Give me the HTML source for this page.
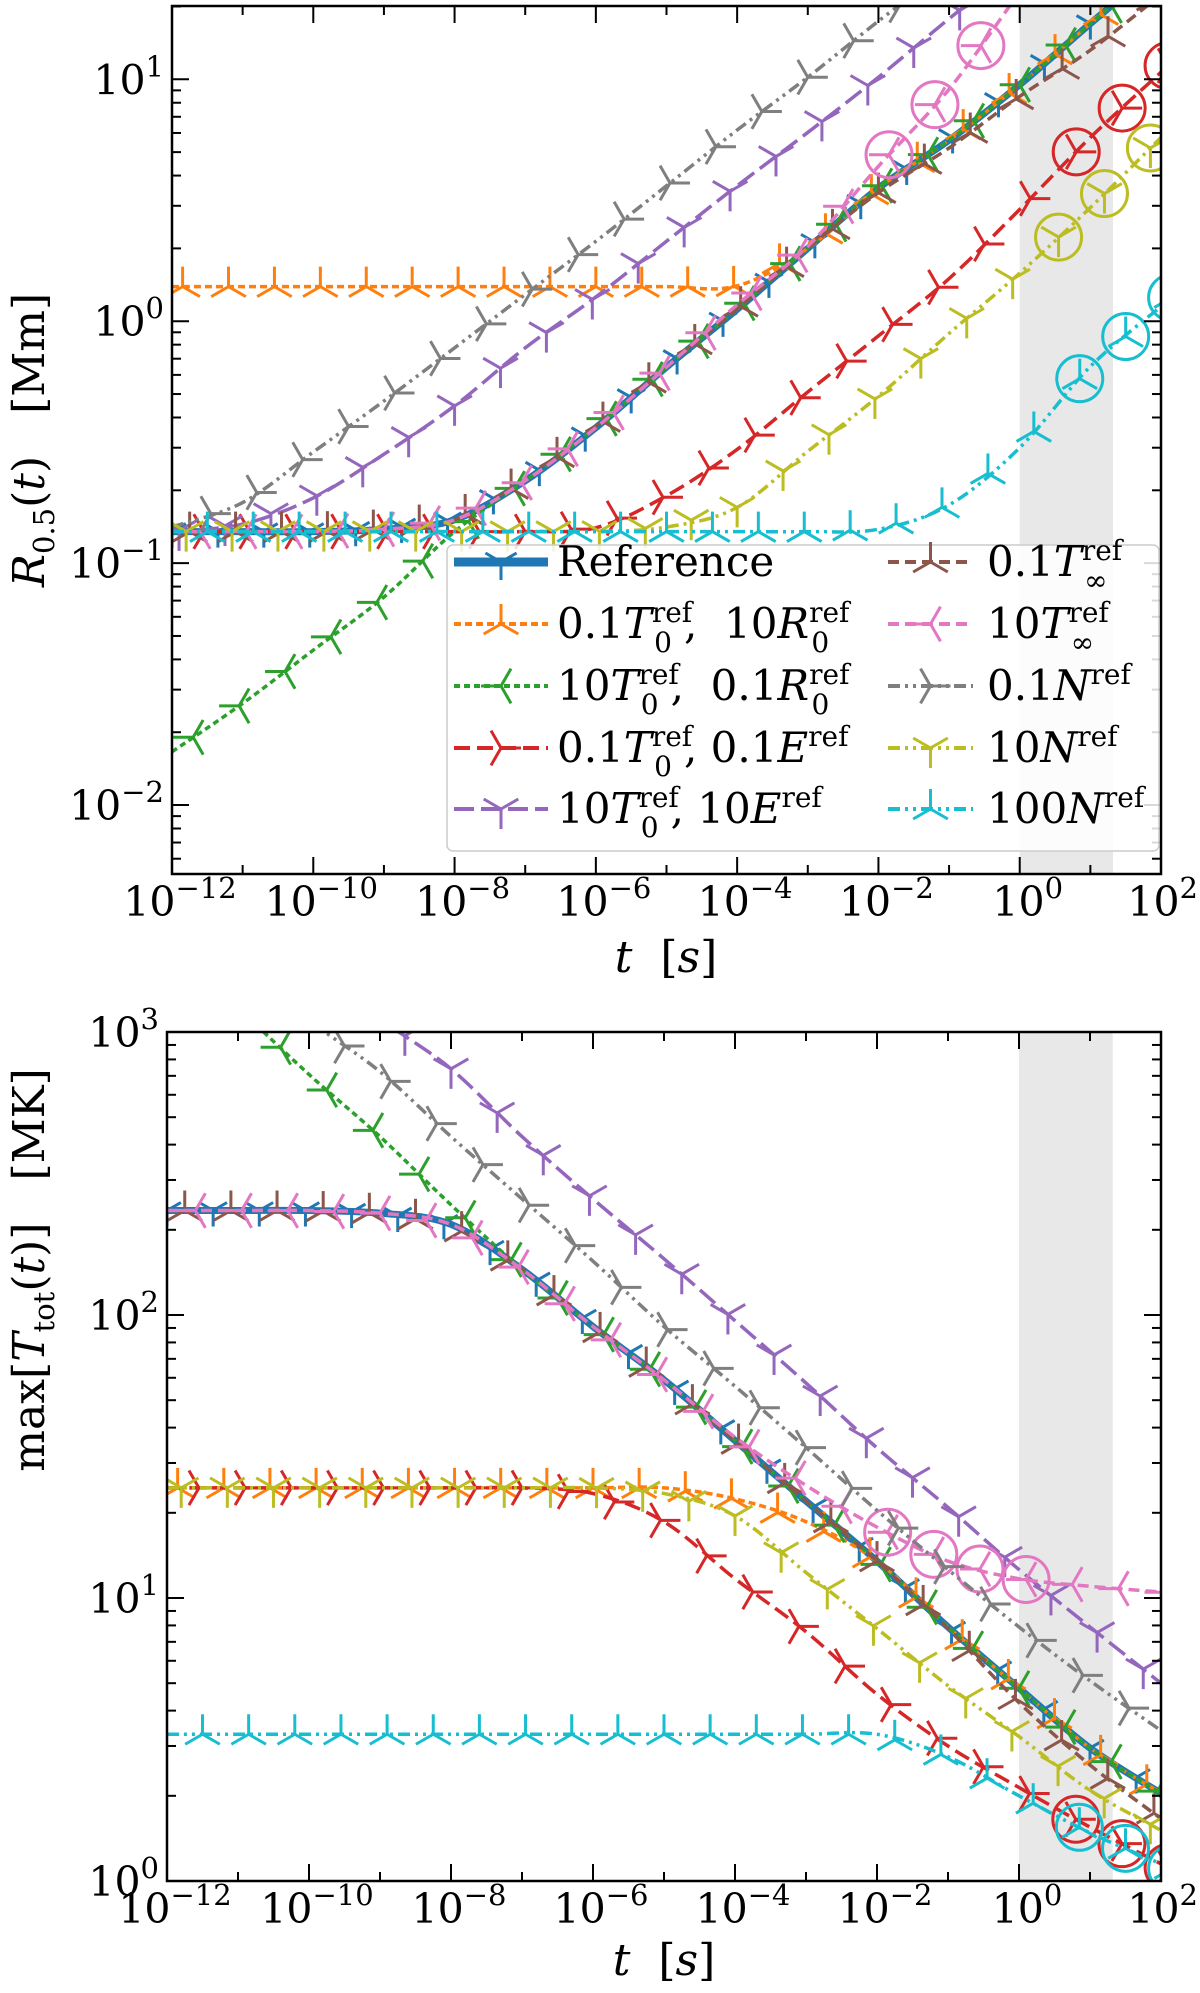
<!DOCTYPE html>
<html><head><meta charset="utf-8"><style>
html,body{margin:0;padding:0;background:#fff}
svg{display:block}
text{font-family:"DejaVu Serif","Liberation Serif",serif;fill:#000}
</style></head><body>
<svg id="fig" width="1200" height="1993" viewBox="0 0 1200 1993" xmlns="http://www.w3.org/2000/svg">
<defs>
<clipPath id="clipTop"><rect x="172" y="6" width="989" height="868"/></clipPath>
<clipPath id="clipBot"><rect x="167" y="1032" width="994" height="849"/></clipPath>
</defs>
<g id="top"></g>
<g id="bot"></g>
</svg>
<script>
// ---- shared categories (log10 of time in s) ----
const tLog = [-12,-11,-10,-9,-8,-7,-6,-5,-4,-3,-2,-1,0,1,2];
const xTickLabels = ["−12","−10","−8","−6","−4","−2","0","2"];
const xTickExp = [-12,-10,-8,-6,-4,-2,0,2];
const seriesNames = ["Reference","orange","green","red","purple","brown","pink","gray","olive","cyan"];

// ---- top panel: R_0.5(t) [Mm] ----
const R_ref    = [0.135,0.135,0.135,0.138,0.151,0.219,0.363,0.646,1.12,2.0,3.55,5.6,9.5,17,30];
const R_orange = [1.39,1.39,1.39,1.39,1.39,1.39,1.39,1.39,1.40,2.0,3.55,5.6,9.5,17,30];
const R_green  = [0.0166,0.0263,0.0437,0.0724,0.135,0.219,0.363,0.646,1.12,2.0,3.55,5.6,9.5,17,30];
const R_red    = [0.135,0.135,0.135,0.135,0.135,0.135,0.14,0.19,0.295,0.51,0.87,1.5,2.9,5.75,10.7];
const R_purple = [0.135,0.145,0.186,0.282,0.447,0.776,1.26,2.14,3.63,6.03,10.2,17.8,30.2,50,85];
const R_brown  = [0.135,0.135,0.135,0.138,0.151,0.219,0.363,0.646,1.12,2.0,3.4,5.2,8.5,13.2,22.4];
const R_pink   = [0.135,0.135,0.135,0.138,0.151,0.219,0.363,0.646,1.17,2.04,4.37,9.1,22.9,56,126];
const R_gray   = [0.141,0.178,0.288,0.468,0.776,1.29,2.14,3.63,6.17,10.2,17.4,28.8,47.9,81.3,138];
const R_olive  = [0.135,0.135,0.135,0.135,0.135,0.135,0.135,0.141,0.17,0.29,0.49,0.89,1.58,2.95,5.75];
const R_cyan   = [0.135,0.135,0.135,0.135,0.135,0.135,0.135,0.135,0.135,0.135,0.138,0.174,0.30,0.65,1.15];

// ---- bottom panel: max T_tot(t) [MK] ----
const T_ref    = [234,234,234,229,209,145,91,59,36,22,13.5,7.9,4.8,2.95,2.04];
const T_orange = [24.5,24.5,24.5,24.5,24.5,24.5,24.5,24.5,22.4,18.6,13.5,7.9,4.8,2.95,2.04];
const T_green  = [2290,1230,708,427,245,145,91,59,36,22,13.5,7.9,4.8,2.95,2.04];
const T_red    = [24.5,24.5,24.5,24.5,24.5,24.5,23.4,18.6,11.7,7.6,4.57,3.0,2.14,1.55,1.15];
const T_purple = [5000,3160,1860,1120,741,427,257,158,95.5,57.5,33.9,20.9,12.6,7.9,5.0];
const T_brown  = [234,234,234,229,209,145,91,59,36,22,13.5,7.8,4.27,2.57,1.66];
const T_pink   = [234,234,234,229,209,145,91,59,37,25,17.8,13.5,11.7,11.0,10.5];
const T_gray   = [3160,1780,1100,724,427,257,155,91,56,34,20.4,12.6,7.9,5.1,3.4];
const T_olive  = [24.5,24.5,24.5,24.5,24.5,24.5,24.5,23.4,19.5,12.3,7.8,4.9,3.24,2.09,1.51];
const T_cyan   = [3.3,3.3,3.3,3.3,3.3,3.3,3.3,3.3,3.3,3.3,3.3,2.75,2.0,1.48,1.15];

const topSeries = [R_ref,R_orange,R_green,R_red,R_purple,R_brown,R_pink,R_gray,R_olive,R_cyan];
const botSeries = [T_ref,T_orange,T_green,T_red,T_purple,T_brown,T_pink,T_gray,T_olive,T_cyan];

const NS = "http://www.w3.org/2000/svg";
const colors = ["#1f77b4","#ff7f0e","#2ca02c","#d62728","#9467bd","#8c564b","#e377c2","#7f7f7f","#bcbd22","#17becf"];
const dashes = ["", "7 4", "6 4", "16 7", "20 7", "11 6", "11 6", "12 5 3 5 3 5", "12 5 3 5 3 5", "12 5 3 5 3 5"];
const widths = [7,3.5,3.5,3.5,3.5,3.5,3.5,3.5,3.5,3.5];
const mtype = ["down","up","left","right","down","up","left","right","down","up"];
const moff = [0.0,0.15,0.3,0.45,0.1,0.25,0.4,0.55,0.2,0.5];

function el(tag, attrs, parent){
  const e = document.createElementNS(NS, tag);
  for (const k in attrs) e.setAttribute(k, attrs[k]);
  parent.appendChild(e);
  return e;
}

function makePanel(g, cfg, seriesList, panelName){
  const xS = v => cfg.x0 + (v - (-12)) / 14 * (cfg.x1 - cfg.x0);
  const yS = v => cfg.y1 - (Math.log10(v) - cfg.lmin) / (cfg.lmax - cfg.lmin) * (cfg.y1 - cfg.y0);
  const sh = el("rect", {x:xS(0), y:cfg.y0, width:xS(1.32)-xS(0), height:cfg.y1-cfg.y0, fill:"#e8e8e8"}, g);
  
  
  const plot = el("g", {"clip-path":"url(#"+cfg.clip+")"}, g);
  
  
  seriesList.forEach((vals, si) => {
    const pts = tLog.map((t,i)=>[xS(t), yS(vals[i])]);
    let d = "M"+pts[0][0]+","+pts[0][1];
    for (let i=0;i<pts.length-1;i++){
      const p0 = pts[Math.max(0,i-1)], p1 = pts[i], p2 = pts[i+1], p3 = pts[Math.min(pts.length-1,i+2)];
      const c1 = [p1[0]+(p2[0]-p0[0])/6, p1[1]+(p2[1]-p0[1])/6];
      const c2 = [p2[0]-(p3[0]-p1[0])/6, p2[1]-(p3[1]-p1[1])/6];
      d += " C"+c1[0]+","+c1[1]+" "+c2[0]+","+c2[1]+" "+p2[0]+","+p2[1];
    }
    const sg = el("g", {}, plot);
    
    
    const ln = el("path", {d:d, fill:"none", stroke:colors[si], "stroke-width":widths[si], "stroke-dasharray":dashes[si]}, sg);
    
    
    for (let m = -12 + moff[si]; m <= 2.3; m += 0.65){
      const i = Math.min(13, Math.max(0, Math.floor(m+12)));
      const f = (m - tLog[i]);
      const lv = Math.log10(vals[i]) + (Math.log10(vals[i+1]) - Math.log10(vals[i]))*f;
      const mx = xS(m), my = yS(Math.pow(10, lv));
      const mk = drawMarker(sg, mx, my, mtype[si], colors[si], si===0?16:20);
      
      
      const circ = (si===3||si===8||si===9) ? m>=0.3 : (si===6 ? m>=-2.2 && m<=0.2 : false);
      if (circ && !(panelName==="temp" && si===8)){
        const c = el("circle", {cx:mx, cy:my, r:23, fill:"none", stroke:colors[si], "stroke-width":3}, sg);
        
        
      }
    }
  });
  const fr = el("rect", {x:cfg.x0, y:cfg.y0, width:cfg.x1-cfg.x0, height:cfg.y1-cfg.y0, fill:"none", stroke:"#000", "stroke-width":2.5}, g);
  
  
  for (let e=-12; e<=2; e++){
    const x = xS(e);
    const L = (e%2===0)?17:9;
    el("line",{x1:x,y1:cfg.y1,x2:x,y2:cfg.y1-L,stroke:"#000","stroke-width":2},g);
    el("line",{x1:x,y1:cfg.y0,x2:x,y2:cfg.y0+L,stroke:"#000","stroke-width":2},g);
  }
  xTickExp.forEach((e,i)=>{
    const last = (i === xTickExp.length-1);
    const tx = el("text",{x:last?1198:xS(e)+8, y:cfg.y1+42, "font-size":41, "text-anchor":last?"end":"middle"}, g);
    
    
    tx.innerHTML = '10<tspan dy="-18" font-size="29">'+xTickLabels[i]+'</tspan>';
  });
  for (let dec = Math.floor(cfg.lmin); dec <= Math.ceil(cfg.lmax); dec++){
    for (let k=1;k<10;k++){
      const lv = dec + Math.log10(k);
      if (lv < cfg.lmin-1e-6 || lv > cfg.lmax+1e-6) continue;
      const y = yS(Math.pow(10,lv));
      const L = k===1?17:9;
      el("line",{x1:cfg.x0,y1:y,x2:cfg.x0+L,y2:y,stroke:"#000","stroke-width":2},g);
      el("line",{x1:cfg.x1,y1:y,x2:cfg.x1-L,y2:y,stroke:"#000","stroke-width":2},g);
    }
  }
  cfg.yTicks.forEach((dec,i)=>{
    const y = yS(Math.pow(10,dec));
    const tx = el("text",{x:cfg.x0-8, y:y+15, "font-size":41, "text-anchor":"end"}, g);
    
    
    tx.innerHTML = '10<tspan dy="-18" font-size="29">'+cfg.yTickLabels[i]+'</tspan>';
  });
  return {xS, yS};
}

function drawMarker(parent, x, y, type, color, s){
  const g = el("g",{stroke:color,"stroke-width":3,fill:"none"},parent);
  let angs;
  if (type==="down") angs=[90,210,330];
  else if (type==="up") angs=[270,30,150];
  else if (type==="left") angs=[180,300,60];
  else angs=[0,120,240];
  angs.forEach(a=>{
    const r=a*Math.PI/180;
    el("line",{x1:x,y1:y,x2:x+s*Math.cos(r),y2:y+s*Math.sin(r)},g);
  });
  return g;
}

const topG = document.getElementById("top");
const botG = document.getElementById("bot");
makePanel(topG, {x0:172,x1:1161,y0:6,y1:874,lmin:-2.285,lmax:1.303,clip:"clipTop",yTicks:[1,0,-1,-2],yTickLabels:["1","0","−1","−2"]}, topSeries, "radius");
makePanel(botG, {x0:167,x1:1161,y0:1032,y1:1881,lmin:0,lmax:3,clip:"clipBot",yTicks:[3,2,1,0],yTickLabels:["3","2","1","0"]}, botSeries, "temp");

function title(parent, html, attrs, name){
  const t = el("text", attrs, parent);
  
  
  t.innerHTML = html;
}
title(topG, '<tspan font-style="italic">t</tspan>&#160;&#160;[<tspan font-style="italic">s</tspan>]', {x:666,y:972,"font-size":44,"text-anchor":"middle"}, "radius-x-axis-title");
title(botG, '<tspan font-style="italic">t</tspan>&#160;&#160;[<tspan font-style="italic">s</tspan>]', {x:664,y:1975,"font-size":44,"text-anchor":"middle"}, "temp-x-axis-title");
title(topG, '<tspan font-style="italic">R</tspan><tspan font-size="29" dy="10">0.5</tspan><tspan dy="-10">(<tspan font-style="italic">t</tspan>)&#160;&#160;&#160;[Mm]</tspan>', {x:0,y:0,"font-size":44,"text-anchor":"middle",transform:"translate(44,440) rotate(-90)"}, "radius-y-axis-title");
title(botG, 'max[<tspan font-style="italic">T</tspan><tspan font-size="29" dy="10">tot</tspan><tspan dy="-10">(<tspan font-style="italic">t</tspan>)]&#160;&#160;&#160;[MK]</tspan>', {x:0,y:0,"font-size":44,"text-anchor":"middle",transform:"translate(44,1270) rotate(-90)"}, "temp-y-axis-title");

const legendLabels = [
  'Reference',
  '0.1<tspan font-style="italic">T</tspan><tspan font-size="28" dy="-16">ref</tspan><tspan font-size="28" dx="-38" dy="30">0</tspan><tspan dy="-14" dx="12">,&#160;&#160;10</tspan><tspan font-style="italic">R</tspan><tspan font-size="28" dy="-16">ref</tspan><tspan font-size="28" dx="-38" dy="30">0</tspan>',
  '10<tspan font-style="italic">T</tspan><tspan font-size="28" dy="-16">ref</tspan><tspan font-size="28" dx="-38" dy="30">0</tspan><tspan dy="-14" dx="12">,&#160;&#160;0.1</tspan><tspan font-style="italic">R</tspan><tspan font-size="28" dy="-16">ref</tspan><tspan font-size="28" dx="-38" dy="30">0</tspan>',
  '0.1<tspan font-style="italic">T</tspan><tspan font-size="28" dy="-16">ref</tspan><tspan font-size="28" dx="-38" dy="30">0</tspan><tspan dy="-14" dx="12">, 0.1</tspan><tspan font-style="italic">E</tspan><tspan font-size="28" dy="-16">ref</tspan>',
  '10<tspan font-style="italic">T</tspan><tspan font-size="28" dy="-16">ref</tspan><tspan font-size="28" dx="-38" dy="30">0</tspan><tspan dy="-14" dx="12">, 10</tspan><tspan font-style="italic">E</tspan><tspan font-size="28" dy="-16">ref</tspan>',
  '0.1<tspan font-style="italic">T</tspan><tspan font-size="28" dy="-16">ref</tspan><tspan font-size="28" dx="-38" dy="30">∞</tspan>',
  '10<tspan font-style="italic">T</tspan><tspan font-size="28" dy="-16">ref</tspan><tspan font-size="28" dx="-38" dy="30">∞</tspan>',
  '0.1<tspan font-style="italic">N</tspan><tspan font-size="28" dy="-16">ref</tspan>',
  '10<tspan font-style="italic">N</tspan><tspan font-size="28" dy="-16">ref</tspan>',
  '100<tspan font-style="italic">N</tspan><tspan font-size="28" dy="-16">ref</tspan>'
];
const lg = el("g",{},topG);


el("rect",{x:447,y:545,width:712,height:306,rx:6,fill:"#fff","fill-opacity":0.85,stroke:"#ccc","stroke-width":1.5},lg);
const rowY = [576,638,700,762,823];
legendLabels.forEach((lab,i)=>{
  const col = i<5?0:1, row = i%5;
  const hx0 = col===0?454:888, hx1 = col===0?548:973, tx = col===0?557:987;
  const y = rowY[row]-14;
  const eg = el("g",{},lg);
  
  
  el("line",{x1:hx0,y1:y,x2:hx1,y2:y,stroke:colors[i],"stroke-width":i===0?9:4,"stroke-dasharray":dashes[i]},eg);
  drawMarker(eg,(hx0+hx1)/2,y,mtype[i],colors[i],i===0?18:20);
  const t = el("text",{x:tx,y:rowY[row],"font-size":42},eg);
  t.innerHTML = lab;
});
</script>
</body></html>
